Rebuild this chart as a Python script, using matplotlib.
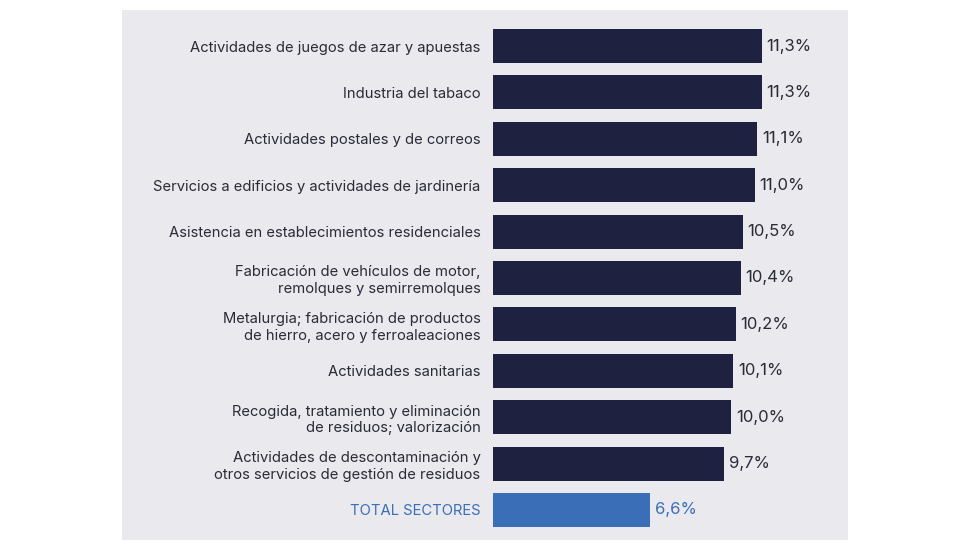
import matplotlib
matplotlib.use("Agg")
import matplotlib.pyplot as plt
from matplotlib.patches import Rectangle

# Data
sectores = [
    "Actividades de juegos de azar y apuestas",
    "Industria del tabaco",
    "Actividades postales y de correos",
    "Servicios a edificios y actividades de jardinería",
    "Asistencia en establecimientos residenciales",
    "Fabricación de vehículos de motor,\nremolques y semirremolques",
    "Metalurgia; fabricación de productos\nde hierro, acero y ferroaleaciones",
    "Actividades sanitarias",
    "Recogida, tratamiento y eliminación\nde residuos; valorización",
    "Actividades de descontaminación y\notros servicios de gestión de residuos",
    "TOTAL SECTORES",
]
valores = [11.3, 11.3, 11.1, 11.0, 10.5, 10.4, 10.2, 10.1, 10.0, 9.7, 6.6]

NAVY = "#1e2140"
BLUE = "#3a6fb7"
PANEL = "#e9e9ee"
TEXT = "#2b2b38"

plt.rcParams['font.family'] = ['Inter', 'DejaVu Sans']

W, H = 980, 560
fig = plt.figure(figsize=(W / 100, H / 100), dpi=100, facecolor="white")

# grey panel behind the chart
fig.patches.append(Rectangle((122 / W, 1 - 540 / H), (848 - 122) / W, (540 - 10) / H,
                             transform=fig.transFigure, facecolor=PANEL,
                             edgecolor="none", zorder=-10))

ax = fig.add_axes([493 / W, 1 - 540 / H, (848 - 493) / W, (540 - 10) / H])
ax.set_facecolor("none")
ax.set_zorder(1)

colors = [NAVY] * (len(valores) - 1) + [BLUE]
pos = list(range(len(valores)))
ax.barh(pos, valores, height=0.73, color=colors)

ax.set_xlim(0, (848 - 493) / 23.8)
ax.set_ylim(10.647, -0.776)

ax.set_yticks(pos)
ax.set_yticklabels(sectores, fontsize=10.65, color=TEXT, linespacing=1.25)
ax.get_yticklabels()[-1].set_color(BLUE)
ax.tick_params(axis="y", length=0, pad=9)
ax.set_xticks([])
for s in ax.spines.values():
    s.set_visible(False)

for p, v, c in zip(pos, valores, colors):
    col = BLUE if c == BLUE else TEXT
    ax.text(v + 0.2, p, f"{v:.1f}%".replace(".", ","), va="center", ha="left",
            fontsize=12, color=col)

fig.savefig("out.png", dpi=100, facecolor="white")
